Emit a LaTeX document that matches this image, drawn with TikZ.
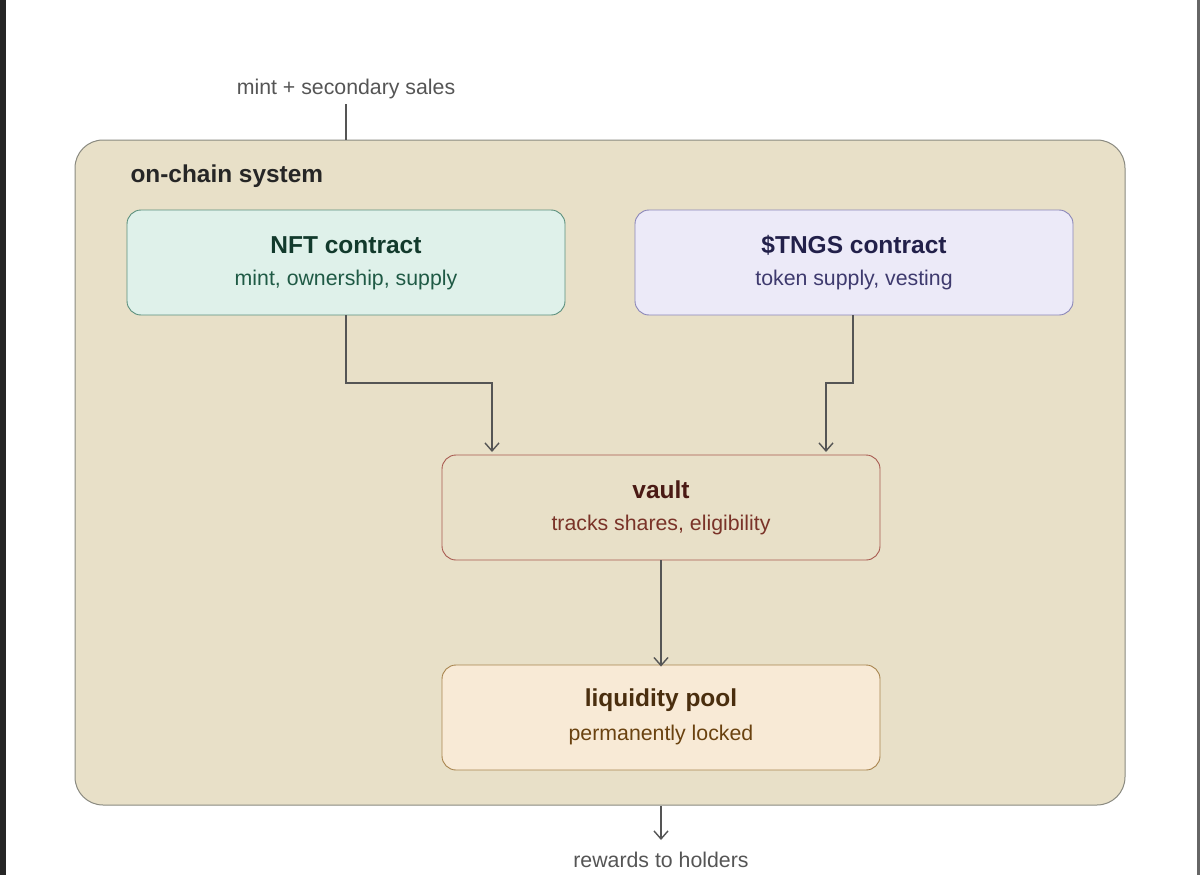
\documentclass[tikz,border=0pt]{standalone}
\usepackage{fontspec}
\setmainfont{Liberation Sans}
\usetikzlibrary{arrows.meta}
\definecolor{bgc}{HTML}{E8E0C8}
\definecolor{cbord}{HTML}{8A8A80}
\definecolor{nftf}{HTML}{DFF1EA}\definecolor{nftb}{HTML}{5A8F7C}\definecolor{nftt}{HTML}{123A2C}\definecolor{nfts}{HTML}{1F5A45}
\definecolor{tokf}{HTML}{ECEAF8}\definecolor{tokb}{HTML}{8A86B8}\definecolor{tokt}{HTML}{22204A}\definecolor{toks}{HTML}{3E3A6E}
\definecolor{vaub}{HTML}{A85A50}\definecolor{vaut}{HTML}{4A1A14}\definecolor{vaus}{HTML}{7A3328}
\definecolor{liqf}{HTML}{F8EAD6}\definecolor{liqb}{HTML}{A8844E}\definecolor{liqt}{HTML}{4A2E0E}\definecolor{liqs}{HTML}{6A4210}
\definecolor{linec}{HTML}{555555}
\tikzset{
 box/.style={draw, rounded corners=14pt, minimum width=438pt, minimum height=105pt, line width=0.9pt, inner sep=0pt},
 ttl/.style={font=\bfseries\fontsize{24.5}{28}\selectfont},
 sub/.style={font=\fontsize{21.3}{25}\selectfont},
 conn/.style={draw=linec, line width=1.6pt, -{Straight Barb[length=8pt,width=14pt,line width=1.4pt]}},
 ext/.style={text=linec, font=\fontsize{21.3}{25}\selectfont},
}
\begin{document}
\begin{tikzpicture}[x=1pt,y=-1pt]
\useasboundingbox (0,0) rectangle (1200,875);
\fill[white] (0,0) rectangle (1200,875);
\fill[black!85] (0,0) rectangle (6,875);
\fill[black!60] (1197,0) rectangle (1200,875);
\draw[fill=bgc, draw=cbord, line width=1pt, rounded corners=28pt] (75,140) rectangle (1125,805);
\node[anchor=west, font=\bfseries\fontsize{24.4}{28}\selectfont, text=black!85] (sys) at (127,176) {on-chain system};
\node[box, fill=nftf, draw=nftb] (nft) at (346,262.5) {};
\node[ttl, text=nftt] (nftA) at (346,245) {NFT contract};
\node[sub, text=nfts] (nftB) at (346,280) {mint, ownership, supply};
\node[box, fill=tokf, draw=tokb] (tok) at (854,262.5) {};
\node[ttl, text=tokt] (tokA) at (854,245) {\$TNGS contract};
\node[sub, text=toks] (tokB) at (854,280) {token supply, vesting};
\node[box, fill=bgc, draw=vaub] (vau) at (661,507.5) {};
\node[ttl, text=vaut] (vauA) at (661,490) {vault};
\node[sub, text=vaus] (vauB) at (661,525) {tracks shares, eligibility};
\node[box, fill=liqf, draw=liqb] (liq) at (661,717.5) {};
\node[ttl, text=liqt] (liqA) at (661,700) {liquidity pool};
\node[sub, text=liqs] (liqB) at (661,735) {permanently locked};
\node[ext] (mint) at (346,89) {mint + secondary sales};
\node[ext] (rew) at (661,860) {rewards to holders};
\coordinate (c1) at (346,140);
\draw[draw=linec, line width=1.6pt] (346,104) -- (c1);
\draw[conn] (nft.south -| 346,0) -- (346,383) -- (492,383) -- (492,452);
\draw[conn] (tok.south -| 853,0) -- (853,383) -- (826,383) -- (826,452);
\draw[conn] (vau.south) -- ([yshift=-2pt]liq.north);
\coordinate (c2) at (661,806);
\draw[conn] (c2) -- (661,840);
\end{tikzpicture}
\end{document}
